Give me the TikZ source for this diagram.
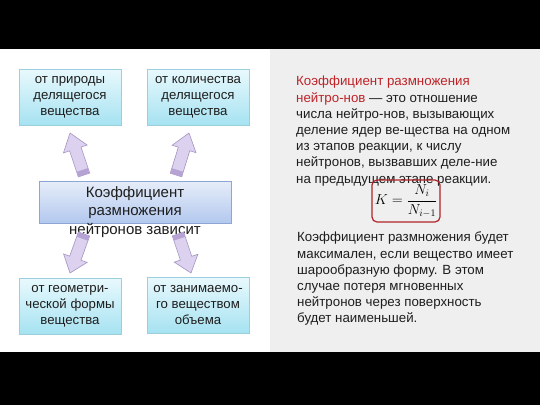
\documentclass[tikz,border=0pt]{standalone}
\usepackage{fontspec}
\setmainfont{Liberation Sans}
\usetikzlibrary{calc,shadows}
\definecolor{bgray}{HTML}{EFEFEF}
\definecolor{redtext}{RGB}{190,35,40}
\definecolor{bodytext}{HTML}{1E1E1E}
\definecolor{boxtop}{HTML}{E8F9FD}
\definecolor{boxbot}{HTML}{A6E2F1}
\definecolor{boxline}{HTML}{9CCFDD}
\definecolor{ctop}{HTML}{E6EDF9}
\definecolor{cbot}{HTML}{B3C8EE}
\definecolor{cline}{HTML}{8EA6D4}
\definecolor{arrfill}{HTML}{DCD1EE}
\definecolor{arrline}{HTML}{A493C2}
\definecolor{arrstripe}{HTML}{B6A3D4}
\definecolor{formred}{RGB}{175,35,40}
\tikzset{
  smallbox/.style={draw=boxline, line width=0.6pt, top color=boxtop, bottom color=boxbot,
    minimum width=102pt, minimum height=56pt, inner sep=0pt,
    drop shadow={opacity=0.3, shadow xshift=1.4pt, shadow yshift=-1.4pt}},
  boxtext/.style={align=center, inner sep=0pt, text=bodytext, font=\fontsize{13.2}{16}\selectfont},
  centerbox/.style={draw=cline, line width=0.6pt, top color=ctop, bottom color=cbot,
    minimum width=192pt, minimum height=42pt, inner sep=0pt,
    drop shadow={opacity=0.3, shadow xshift=1.4pt, shadow yshift=-1.4pt}},
  centertext/.style={align=center, inner sep=0pt, text=bodytext, font=\fontsize{15}{18.5}\selectfont},
  para/.style={align=left, inner sep=0pt, anchor=north west, text=bodytext, font=\fontsize{13.3}{16.2}\selectfont},
  formbox/.style={draw=formred, line width=1.2pt, rounded corners=5pt, minimum width=68pt, minimum height=42pt, inner sep=0pt},
}
\newcommand\blkarrow[2]{%
  \path ($(#1)!0.62!(#2)$) coordinate (nk) ($(#1)!0.12!(#2)$) coordinate (st);
  \filldraw[fill=arrfill, draw=arrline, line width=0.6pt, line join=miter]
    ($(#1)!6pt!90:(#2)$) -- ($(nk)!6pt!90:(#2)$) -- ($(nk)!12.5pt!90:(#2)$) -- (#2)
    -- ($(nk)!12.5pt!-90:(#2)$) -- ($(nk)!6pt!-90:(#2)$) -- ($(#1)!6pt!-90:(#2)$) -- cycle;
  \fill[arrstripe] ($(#1)!5.7pt!90:(#2)$) -- ($(st)!5.7pt!90:(#2)$) -- ($(st)!5.7pt!-90:(#2)$) -- ($(#1)!5.7pt!-90:(#2)$) -- cycle;
}
\begin{document}
\begin{tikzpicture}[x=1pt,y=-1pt]
\useasboundingbox (0,0) rectangle (540,405);
\fill[white] (0,0) rectangle (540,405);
\fill[bgray] (270,49) rectangle (540,352);
\fill[black] (0,0) rectangle (540,49);
\fill[black] (0,352) rectangle (540,405);

% left boxes
\node[smallbox] (b1) at (70,97) {};
\node[boxtext] (t1) at (b1.center) {от природы\\делящегося\\вещества};
\node[smallbox] (b2) at (198,97) {};
\node[boxtext] (t2) at (b2.center) {от количества\\делящегося\\вещества};
\node[smallbox] (b3) at (70,306) {};
\node[boxtext] (t3) at (b3.center) {от геометри-\\ческой формы\\вещества};
\node[smallbox] (b4) at (198,305) {};
\node[boxtext] (t4) at (b4.center) {от занимаемо-\\го веществом\\объема};

\node[centerbox] (c) at (135,202) {};
\node[centertext] (ct) at (135,212) {Коэффициент\\размножения\\нейтронов зависит};

% block arrows
\coordinate (a1b) at (84,175); \coordinate (a1t) at (70,133);
\coordinate (a2b) at (176,175); \coordinate (a2t) at (189,133);
\coordinate (a3b) at (84,234); \coordinate (a3t) at (70,273);
\coordinate (a4b) at (178,234); \coordinate (a4t) at (191,273);
\blkarrow{a1b}{a1t}
\blkarrow{a2b}{a2t}
\blkarrow{a3b}{a3t}
\blkarrow{a4b}{a4t}

% right side
\node[para] (p1) at (296,76) {{\color{redtext}Коэффициент размножения}\\
{\color{redtext}нейтро-нов} — это отношение\\
числа нейтро-нов, вызывающих\\
деление ядер ве-щества на одном\\
из этапов реакции, к числу\\
нейтронов, вызвавших деле-ние\\
на предыдущем этапе реакции.};

\node[formbox] (fb) at (406,201) {};
\node[inner sep=0pt, font=\fontsize{14.5}{16}\selectfont] (f) at (fb.center) {$\displaystyle K=\frac{N_i}{N_{i-1}}$};

\node[para] (p2) at (297,232) {Коэффициент размножения будет\\
максимален, если вещество имеет\\
шарообразную форму. В этом\\
случае потеря мгновенных\\
нейтронов через поверхность\\
будет наименьшей.};
\end{tikzpicture}
\end{document}
